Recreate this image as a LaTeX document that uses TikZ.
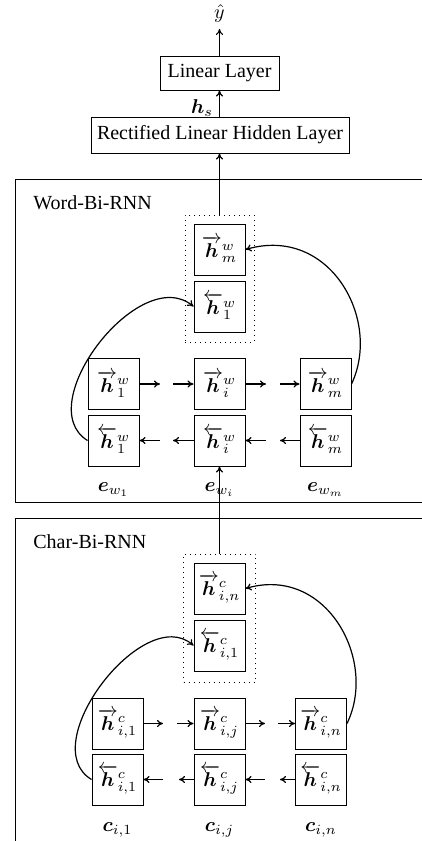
\documentclass[tikz,border=0pt]{standalone}
\usepackage{amsmath,bm}
\usepackage{fontspec}
\setmainfont{Liberation Serif}
\usetikzlibrary{arrows.meta}
\begin{document}
\begin{tikzpicture}[x=0.5pt,y=-0.5pt,
  hb/.style={draw, line width=0.5pt, minimum width=25.5pt, minimum height=25.5pt, inner sep=0pt},
  lay/.style={draw, line width=0.5pt, inner sep=0pt},
  dotbox/.style={draw, dotted, line width=0.5pt, inner sep=0pt},
  outer/.style={draw, line width=0.5pt},
  lbl/.style={inner sep=0pt},
  arr/.style={-{To[length=3pt,width=3.6pt]}, line width=0.6pt}]
\clip (0,0) rectangle (422,841);
% top layers
\node[lay, minimum width=129pt, minimum height=18pt] (rect) at (220,135) {Rectified Linear Hidden Layer};
\node[lay, minimum width=59.5pt, minimum height=17pt] (lin) at (219.5,73) {Linear Layer};
\node (yhat) at (219.5,13) {$\hat{y}$};
\node[lbl] (hs) at (202,108) {$\bm{h}_s$};
\draw[arr] (rect.north -| lin.south) -- (lin.south);
\draw[arr] (lin.north) -- (yhat.south);
% word box
\draw[outer] (15,179) rectangle (440,502);
\node[lbl, anchor=west] (wlab) at (33,203) {Word-Bi-RNN};
\node[dotbox, minimum width=34.5pt, minimum height=63.5pt] (wdot) at (219.5,278.5) {};
\node[hb] (wt1) at (219.5,249.5) {$\overrightarrow{\bm{h}}^{w}_{m}$};
\node[hb] (wt2) at (219.5,306.5) {$\overleftarrow{\bm{h}}^{w}_{1}$};
\node[hb] (wf1) at (113.5,384) {$\overrightarrow{\bm{h}}^{w}_{1}$};
\node[hb] (wfi) at (219.5,384) {$\overrightarrow{\bm{h}}^{w}_{i}$};
\node[hb] (wfm) at (325.5,384) {$\overrightarrow{\bm{h}}^{w}_{m}$};
\node[hb] (wb1) at (113.5,440.5) {$\overleftarrow{\bm{h}}^{w}_{1}$};
\node[hb] (wbi) at (219.5,440.5) {$\overleftarrow{\bm{h}}^{w}_{i}$};
\node[hb] (wbm) at (325.5,440.5) {$\overleftarrow{\bm{h}}^{w}_{m}$};
\node[lbl] (we1) at (113.5,490) {$\bm{e}_{w_1}$};
\node[lbl] (wei) at (219.5,490) {$\bm{e}_{w_i}$};
\node[lbl] (wem) at (325.5,490) {$\bm{e}_{w_m}$};
\coordinate (wa1) at (160,384); \coordinate (wa2) at (173,384);
\coordinate (wa3) at (266,384); \coordinate (wa4) at (280,384);
\coordinate (wb1g) at (160,440.5); \coordinate (wb2g) at (173,440.5);
\coordinate (wb3g) at (266,440.5); \coordinate (wb4g) at (280,440.5);
\draw[arr] (wf1.east) -- (wa1);
\draw[arr] (wa2) -- (wfi.west);
\draw[arr] (wfi.east) -- (wa3);
\draw[arr] (wa4) -- (wfm.west);
\draw[arr] (wb1g) -- (wb1.east);
\draw[arr] (wbi.west) -- (wb2g);
\draw[arr] (wb3g) -- (wbi.east);
\draw[arr] (wbm.west) -- (wb4g);
\draw[arr] (wb1.west) .. controls (30,405) and (140,262) .. (wt2.west);
\draw[arr] (wfm.east) .. controls (382,320) and (330,225) .. (wt1.east);
\draw[arr] (wdot.north) -- (rect.south -| wdot.north);
% char box
\draw[outer] (15,518) rectangle (440,860);
\node[lbl, anchor=west] (clab) at (33,542) {Char-Bi-RNN};
\node[dotbox, minimum width=36pt, minimum height=64pt] (cdot) at (219.5,618) {};
\node[hb] (ct1) at (219.5,588.5) {$\overrightarrow{\bm{h}}^{c}_{i,n}$};
\node[hb] (ct2) at (219.5,645.5) {$\overleftarrow{\bm{h}}^{c}_{i,1}$};
\node[hb] (cf1) at (117.5,723.5) {$\overrightarrow{\bm{h}}^{c}_{i,1}$};
\node[hb] (cfj) at (219.5,723.5) {$\overrightarrow{\bm{h}}^{c}_{i,j}$};
\node[hb] (cfn) at (321,723.5) {$\overrightarrow{\bm{h}}^{c}_{i,n}$};
\node[hb] (cb1) at (117.5,779.5) {$\overleftarrow{\bm{h}}^{c}_{i,1}$};
\node[hb] (cbj) at (219.5,779.5) {$\overleftarrow{\bm{h}}^{c}_{i,j}$};
\node[hb] (cbn) at (321,779.5) {$\overleftarrow{\bm{h}}^{c}_{i,n}$};
\node[lbl] (cc1) at (117.5,830) {$\bm{c}_{i,1}$};
\node[lbl] (ccj) at (219.5,830) {$\bm{c}_{i,j}$};
\node[lbl] (ccn) at (321,830) {$\bm{c}_{i,n}$};
\coordinate (ca1) at (163,723.5); \coordinate (ca2) at (177,723.5);
\coordinate (ca3) at (265,723.5); \coordinate (ca4) at (278,723.5);
\coordinate (cb1g) at (163,779.5); \coordinate (cb2g) at (179,779.5);
\coordinate (cb3g) at (265,779.5); \coordinate (cb4g) at (280,779.5);
\draw[arr] (cf1.east) -- (ca1);
\draw[arr] (ca2) -- (cfj.west);
\draw[arr] (cfj.east) -- (ca3);
\draw[arr] (ca4) -- (cfn.west);
\draw[arr] (cb1g) -- (cb1.east);
\draw[arr] (cbj.west) -- (cb2g);
\draw[arr] (cb3g) -- (cbj.east);
\draw[arr] (cbn.west) -- (cb4g);
\draw[arr] (cb1.west) .. controls (34,745) and (144,602) .. (ct2.west);
\draw[arr] (cfn.east) .. controls (378,660) and (326,565) .. (ct1.east);
\draw[arr] (cdot.north) -- (wbi.south);
\end{tikzpicture}
\end{document}
